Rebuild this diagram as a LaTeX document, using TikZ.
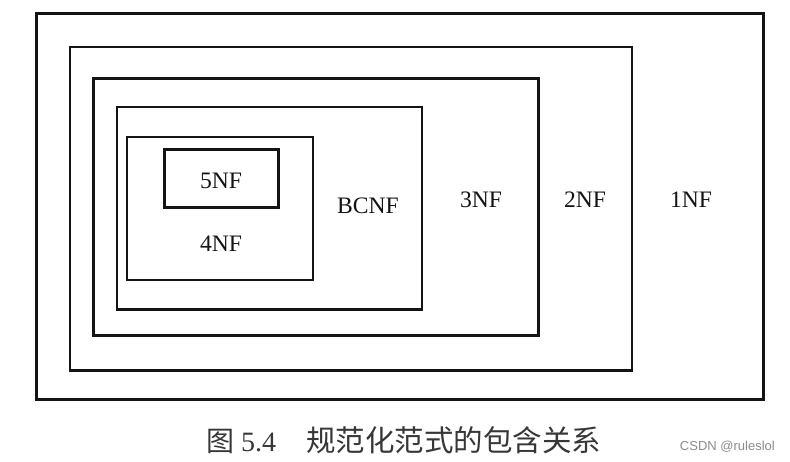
\documentclass[tikz,border=0pt]{standalone}
\usepackage{fontspec}
\setmainfont{Liberation Serif}
\newfontfamily\cjk{Noto Sans CJK SC}
\newfontfamily\wmark{Liberation Sans}
\usepackage{tikz}
\usetikzlibrary{positioning, calc}
\definecolor{ink}{RGB}{20, 20, 20}
\definecolor{mark}{RGB}{140, 140, 140}

\tikzset{
  thickframe/.style={draw=ink, line width=3pt},
  thinframe/.style={draw=ink, line width=2.2pt},
  nflabel/.style={text=ink, inner sep=0pt, font=\fontsize{23.6}{28}\selectfont}
}

\begin{document}
\begin{tikzpicture}[x=1pt, y=-1pt]
  \useasboundingbox (0,0) rectangle (790,462);
  \fill[white] (0,0) rectangle (790,462);

  % nested normal forms, outermost first
  \draw[thickframe] (36,13.5) rectangle (763,399.5);
  \draw[thinframe] (70,47) rectangle (632,370.5);
  \draw[thickframe] (93,79) rectangle (538,336);
  \draw[thinframe] (117,107) rectangle (422,309.5);
  \draw[thinframe] (127,137) rectangle (313,280);
  \draw[thickframe] (164,150) rectangle (278,208);

  % labels
  \node[nflabel] (nf5) at (221,181) {5NF};
  \node[nflabel] (nf4) at (221,244) {4NF};
  \node[nflabel] (bcnf) at (368,206) {BCNF};
  \node[nflabel] (nf3) at (481,200) {3NF};
  \node[nflabel] (nf2) at (585,200) {2NF};
  \node[nflabel] (nf1) at (691,200) {1NF};

  % caption
  \node[anchor=west, inner sep=0pt, text=ink!85, font=\fontsize{28}{32}\selectfont] (caption) at (206,440)
    {{\cjk 图}\hspace{7pt}5.4\hspace{30pt}{\cjk\fontsize{29.5}{32}\selectfont 规范化范式的包含关系}};
  \node[anchor=east, inner sep=0pt, text=mark, font=\wmark\fontsize{13}{15}\selectfont] (watermark) at (775,447) {CSDN @ruleslol};
\end{tikzpicture}
\end{document}
